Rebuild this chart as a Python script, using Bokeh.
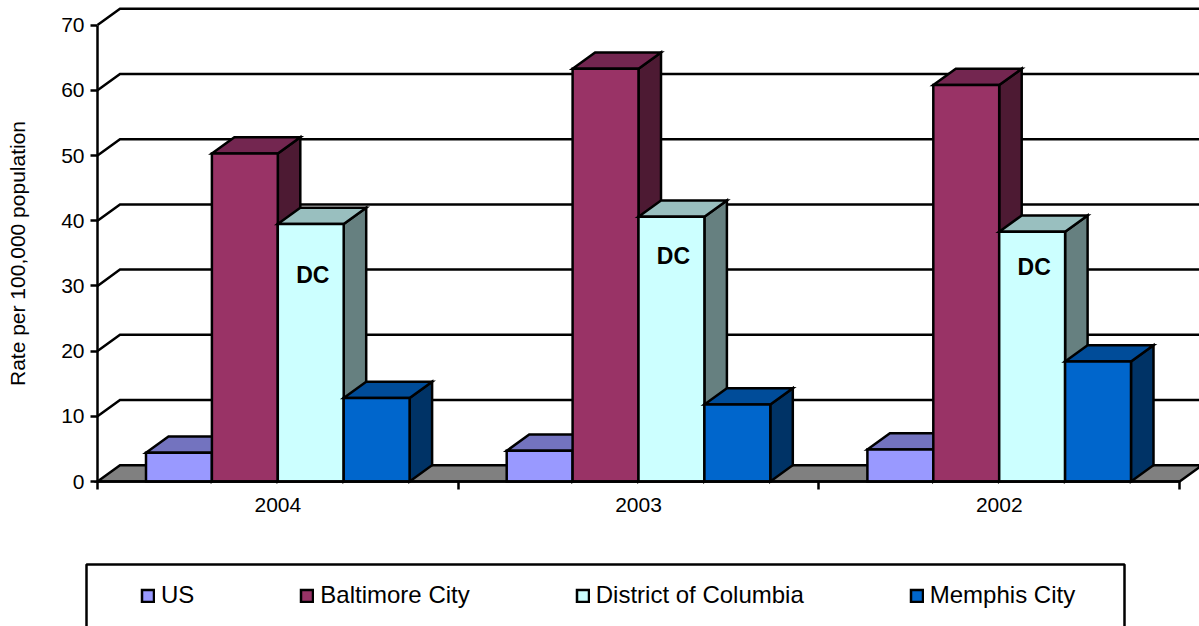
from bokeh.plotting import figure
from bokeh.models import (Range1d, FixedTicker, Legend, LegendItem, BoxAnnotation)
from bokeh.core.properties import value
from bokeh.embed import file_html
from bokeh.resources import INLINE

categories = ["2004", "2003", "2002"]
series_names = ["US", "Baltimore City", "District of Columbia", "Memphis City"]
us = [4.4, 4.7, 4.9]
baltimore = [50.3, 63.3, 60.8]
dc = [39.5, 40.6, 38.3]
memphis = [12.8, 11.8, 18.4]
y_ticks = [0, 10, 20, 30, 40, 50, 60, 70]
dc_label_y = [31.7, 34.6, 32.9]

front_colors = ["#9999FF", "#993366", "#CCFFFF", "#0066CC"]
top_colors = ["#7373BF", "#732650", "#99BFBF", "#004C99"]
side_colors = ["#4D4D80", "#4D1A33", "#668080", "#003366"]

FONT = "Liberation Sans"
W, H = 1199, 626
AXIS_X = 97
AXIS_Y = 481
CAT_PX = 360.7
PX_PER_UNIT = 6.52
DX = 22.5 / CAT_PX
DY = 16.3 / PX_PER_UNIT
GAP = 48.5 / CAT_PX
BAR = 65.9 / CAT_PX

p = figure(width=W, height=H, frame_width=W, frame_height=H,
           output_backend="svg", toolbar_location=None,
           x_range=Range1d(-AXIS_X / CAT_PX, (W - AXIS_X) / CAT_PX),
           y_range=Range1d(-(H - AXIS_Y) / PX_PER_UNIT, AXIS_Y / PX_PER_UNIT),
           min_border_left=0, min_border_right=0, min_border_top=0,
           min_border_bottom=0, outline_line_color=None,
           background_fill_color="white", border_fill_color="white")
p.grid.visible = False

n = len(categories)
LW = 2.5
for t in y_ticks[1:]:
    p.line([0, DX, n + DX + 1], [t, t + DY, t + DY], line_color="black", line_width=LW, line_join="miter")

p.patch([0, DX, n + DX, n], [0, DY, DY, 0], fill_color="#808080", line_color="black", line_width=LW, line_join="miter")

legend_renderers = [None] * 4
all_series = [us, baltimore, dc, memphis]
for c in range(n):
    for k, vals in enumerate(all_series):
        x0 = c + GAP + k * BAR
        x1 = x0 + BAR
        v = vals[c]
        p.patch([x1, x1 + DX, x1 + DX, x1], [0, DY, v + DY, v], fill_color=side_colors[k],
                line_color="black", line_width=LW, line_join="miter")
        p.patch([x0, x0 + DX, x1 + DX, x1], [v, v + DY, v + DY, v], fill_color=top_colors[k],
                line_color="black", line_width=LW, line_join="miter")
        r = p.quad(left=[x0], right=[x1], bottom=[0], top=[v], fill_color=front_colors[k],
                   line_color="black", line_width=LW, line_join="miter")
        if legend_renderers[k] is None:
            legend_renderers[k] = r

p.text(x=[c + GAP + 2.5 * BAR + 2 / CAT_PX for c in range(n)], y=dc_label_y, text=["DC"] * n,
       text_font=value(FONT), text_font_size="23px", text_font_style="bold",
       text_color="black", text_align="center", text_baseline="middle")

yax = p.yaxis[0]
yax.fixed_location = 0
yax.ticker = FixedTicker(ticks=y_ticks)
yax.bounds = (0, 70)
yax.axis_line_color = "black"
yax.axis_line_width = LW
yax.major_tick_line_color = "black"
yax.major_tick_line_width = LW
yax.major_tick_in = 0
yax.major_tick_out = 7
yax.minor_tick_line_color = None
yax.major_label_text_font = FONT
yax.major_label_text_font_size = "21px"
yax.major_label_text_color = "black"
yax.major_label_standoff = 6
yax.axis_label = "Rate per 100,000 population"
yax.axis_label_text_font = FONT
yax.axis_label_text_font_size = "21px"
yax.axis_label_text_font_style = "normal"
yax.axis_label_text_color = "black"
yax.axis_label_standoff = 29

xax = p.xaxis[0]
centers = [c + 0.5 for c in range(n)]
xax.fixed_location = 0
xax.ticker = FixedTicker(ticks=centers, minor_ticks=list(range(n + 1)))
xax.major_label_overrides = {centers[i]: categories[i] for i in range(n)}
xax.bounds = (0, n)
xax.axis_line_color = "black"
xax.axis_line_width = LW
xax.major_tick_line_color = None
xax.major_tick_in = 0
xax.major_tick_out = 0
xax.minor_tick_line_color = "black"
xax.minor_tick_line_width = LW
xax.minor_tick_in = 0
xax.minor_tick_out = 8
xax.major_label_text_font = FONT
xax.major_label_text_font_size = "21px"
xax.major_label_text_color = "black"
xax.major_label_standoff = 8

p.add_layout(BoxAnnotation(left=86, right=1124, top=H - 564, bottom=-20,
                           left_units="screen", right_units="screen",
                           top_units="screen", bottom_units="screen",
                           fill_color=None, line_color="black", line_alpha=1.0, line_width=LW))

legend = Legend(items=[LegendItem(label=series_names[k], renderers=[legend_renderers[k]]) for k in range(4)],
                orientation="horizontal", location=(140, 17), padding=0, margin=0,
                spacing=105, glyph_width=15, glyph_height=15, label_standoff=6,
                label_text_font=FONT, label_text_font_size="24px", label_text_color="black",
                border_line_color=None, background_fill_alpha=0, click_policy="none")
p.add_layout(legend)

open("out.html", "w").write(file_html(p, INLINE))
